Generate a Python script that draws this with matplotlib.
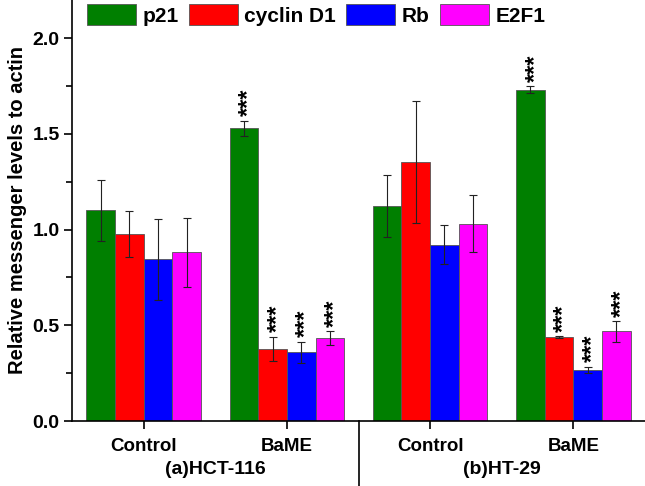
import numpy as np
import matplotlib
matplotlib.use("Agg")
import matplotlib.pyplot as plt
from matplotlib.ticker import MultipleLocator, FormatStrFormatter

plt.rcParams['font.family'] = ['Liberation Sans', 'DejaVu Sans']
plt.rcParams['font.weight'] = 'bold'

genes = ["p21", "cyclin D1", "Rb", "E2F1"]
colors = ["#007f00", "#ff0000", "#0000ff", "#ff00ff"]
groups = ["Control", "BaME", "Control", "BaME"]
cell_lines = ["(a)HCT-116", "(b)HT-29"]

p21 = [1.10, 1.530, 1.123, 1.732]
cyclinD1 = [0.975, 0.376, 1.354, 0.437]
rb = [0.844, 0.360, 0.922, 0.268]
e2f1 = [0.881, 0.433, 1.032, 0.468]

p21_err = [0.16, 0.040, 0.16, 0.020]
cyclinD1_err = [0.12, 0.065, 0.32, 0.005]
rb_err = [0.21, 0.055, 0.10, 0.016]
e2f1_err = [0.18, 0.035, 0.15, 0.054]

significant = [False, True, False, True]

values = [p21, cyclinD1, rb, e2f1]
errors = [p21_err, cyclinD1_err, rb_err, e2f1_err]

fig = plt.figure(figsize=(6.45, 4.86), dpi=100)
ax = fig.add_axes([72/645, (486-421)/486, 1 - 72/645, 421/486])

x = np.arange(len(groups))
w = 0.2
for i, (vals, errs, c, g) in enumerate(zip(values, errors, colors, genes)):
    pos = x + (i - 1.5) * w
    ax.bar(pos, vals, width=w, color=c, edgecolor="#555555", linewidth=0.6, label=g)
    ax.errorbar(pos, vals, yerr=errs, fmt='none', ecolor='#222222', elinewidth=0.8,
                capsize=3, capthick=0.8)
    for j in range(len(groups)):
        if significant[j]:
            fs = 17
            ax.annotate("***", (pos[j], vals[j] + errs[j]), xytext=(0.2 * fs, 3),
                        textcoords='offset points', rotation=90, ha='center', va='bottom',
                        fontsize=fs, fontweight='bold')

ax.set_xlim(-0.5, 3.5)
ax.set_ylim(0, 2.2)
ax.spines['top'].set_visible(False)
ax.spines['right'].set_visible(False)
ax.spines['left'].set_linewidth(1.2)
ax.spines['bottom'].set_linewidth(1.2)

ax.yaxis.set_major_locator(MultipleLocator(0.5))
ax.yaxis.set_minor_locator(MultipleLocator(0.25))
ax.yaxis.set_major_formatter(FormatStrFormatter('%.1f'))
ax.tick_params(axis='y', which='major', direction='out', length=6, width=1.2, labelsize=14, pad=3)
ax.tick_params(axis='y', which='minor', direction='out', length=4, width=1.2)
ax.set_xticks(x)
ax.set_xticklabels(groups)
ax.tick_params(axis='x', which='major', direction='out', length=6, width=1.2, labelsize=13.5, pad=6)
for lbl in ax.get_xticklabels() + ax.get_yticklabels():
    lbl.set_fontweight('bold')

ax.set_ylabel("Relative messenger levels to actin", fontsize=14.5, fontweight='bold', labelpad=4)

# separator between cell lines
ax.plot([1.5, 1.5], [0, -0.34], color='black', lw=1.2, clip_on=False,
        transform=ax.transData)
trans = ax.get_xaxis_transform()
ax.text(0.5, -0.115, cell_lines[0], transform=trans, ha='center', va='center',
        fontsize=14, fontweight='bold')
ax.text(2.5, -0.115, cell_lines[1], transform=trans, ha='center', va='center',
        fontsize=14, fontweight='bold')

leg = ax.legend(loc='upper left', bbox_to_anchor=(0.012, 1.01), ncol=4, frameon=False,
                fontsize=15, handlelength=2.35, handleheight=1.15, handletextpad=0.3,
                columnspacing=0.5, borderaxespad=0.0)
for t in leg.get_texts():
    t.set_fontweight('bold')

fig.savefig("out.png", dpi=100)
